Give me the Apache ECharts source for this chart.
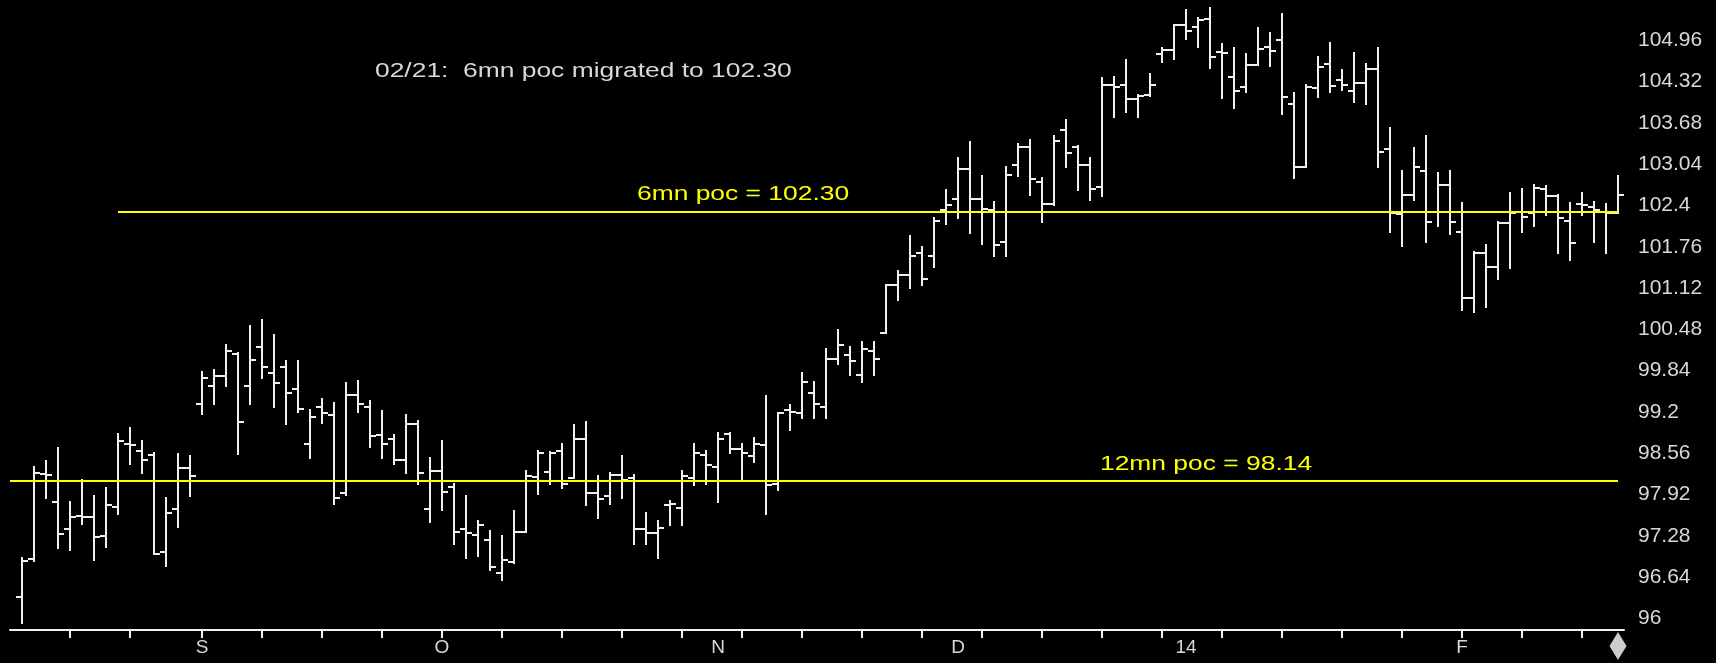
<!DOCTYPE html>
<html>
<head>
<meta charset="utf-8">
<title>6mn poc</title>
<script src="https://cdn.jsdelivr.net/npm/echarts@6/dist/echarts.min.js"></script>
<style>
html, body { margin: 0; padding: 0; background: #000; }
#chart { width: 1716px; height: 663px; }
</style>
</head>
<body>
<div id="chart"></div>
<script>
// daily bars (open / high / low / close)
var opens = [96.33, 96.92, 98.23, 97.81, 97.38, 97.58, 97.57, 97.27, 97.73, 98.71,
    98.59, 98.53, 97.03, 97.69, 98.33, 99.33, 99.60, 99.75, 100.10, 99.60,
    100.20, 99.80, 99.89, 99.55, 98.71, 99.27, 99.15, 97.94, 99.46, 99.27,
    98.84, 98.78, 98.45, 99.01, 97.69, 98.29, 98.03, 97.38, 97.29, 97.22,
    96.71, 96.88, 97.34, 98.19, 98.27, 98.59, 98.18, 98.78, 97.94, 97.89,
    98.22, 98.17, 97.38, 97.33, 97.76, 97.71, 98.18, 98.53, 98.35, 98.85,
    98.62, 98.52, 98.69, 98.09, 99.23, 99.18, 99.49, 99.28, 100.02, 100.08,
    99.77, 100.14, 100.43, 101.17, 101.32, 101.66, 101.61, 102.33, 102.50, 102.97,
    102.50, 102.33, 101.83, 103.03, 103.30, 102.76, 102.43, 103.57, 103.30, 103.03,
    102.68, 104.27, 104.27, 104.05, 104.11, 104.75, 104.81, 105.20, 105.17, 105.29,
    104.78, 104.40, 104.23, 104.58, 104.86, 104.96, 103.98, 103.00, 104.22, 104.59,
    104.35, 104.18, 104.30, 104.51, 103.27, 102.27, 102.56, 102.94, 102.30, 102.72,
    101.99, 100.96, 101.66, 101.44, 102.13, 102.30, 102.29, 102.66, 102.54, 102.16,
    102.43, 102.38, 102.30, 102.29];
var highs = [96.93, 98.35, 98.44, 98.64, 97.80, 98.14, 97.89, 98.02, 98.85, 98.95,
    98.75, 98.57, 97.86, 98.54, 98.51, 99.82, 99.85, 100.23, 100.12, 100.53,
    100.63, 100.40, 99.99, 99.99, 99.23, 99.40, 99.34, 99.65, 99.68, 99.37,
    99.22, 98.84, 99.15, 99.06, 98.48, 98.75, 98.09, 97.89, 97.51, 97.36,
    97.27, 97.67, 98.29, 98.60, 98.58, 98.71, 99.00, 99.04, 98.20, 98.26,
    98.51, 98.22, 97.64, 97.51, 97.82, 98.28, 98.70, 98.59, 98.88, 98.88,
    98.70, 98.79, 99.44, 99.19, 99.31, 99.81, 99.66, 100.18, 100.47, 100.21,
    100.28, 100.28, 101.17, 101.38, 101.92, 101.76, 102.20, 102.64, 103.13, 103.38,
    102.85, 102.45, 103.00, 103.35, 103.42, 102.82, 103.47, 103.73, 103.32, 103.13,
    104.37, 104.40, 104.65, 104.11, 104.44, 104.84, 105.20, 105.43, 105.30, 105.46,
    104.90, 104.84, 104.75, 105.15, 105.08, 105.37, 104.15, 104.27, 104.71, 104.92,
    104.50, 104.77, 104.59, 104.84, 103.60, 102.94, 103.29, 103.47, 102.91, 102.94,
    102.44, 101.68, 101.79, 102.15, 102.59, 102.65, 102.72, 102.70, 102.56, 102.44,
    102.60, 102.46, 102.43, 102.85];
var lows = [95.93, 96.89, 97.86, 97.09, 97.06, 97.46, 96.90, 97.11, 97.62, 98.39,
    98.26, 97.00, 96.81, 97.42, 97.89, 99.17, 99.32, 99.60, 98.55, 99.32,
    99.73, 99.28, 99.01, 99.20, 98.48, 99.03, 97.78, 97.91, 99.20, 98.65,
    98.48, 98.39, 98.26, 98.08, 97.50, 97.68, 97.15, 96.93, 96.97, 96.75,
    96.59, 96.85, 97.34, 97.93, 98.08, 98.02, 98.18, 97.75, 97.55, 97.77,
    97.87, 97.16, 97.16, 96.94, 97.44, 97.45, 98.06, 98.09, 97.81, 98.56,
    98.16, 98.43, 97.61, 97.99, 98.92, 99.11, 99.10, 99.10, 99.94, 99.78,
    99.67, 99.78, 100.42, 100.94, 101.12, 101.16, 101.44, 102.11, 102.20, 101.98,
    101.81, 101.62, 101.62, 102.86, 102.57, 102.15, 102.41, 102.99, 102.64, 102.49,
    102.55, 103.77, 103.85, 103.77, 104.10, 104.63, 104.67, 104.98, 104.85, 104.53,
    104.06, 103.91, 104.16, 104.58, 104.56, 103.82, 102.82, 103.00, 104.08, 104.16,
    104.19, 104.01, 103.98, 102.99, 101.99, 101.77, 102.49, 101.84, 102.08, 101.96,
    100.78, 100.75, 100.82, 101.26, 101.43, 101.99, 102.08, 102.25, 101.66, 101.56,
    102.25, 101.84, 101.66, 102.29];
var closes = [96.89, 98.25, 98.22, 97.31, 97.57, 97.57, 97.26, 97.76, 98.75, 98.68,
    98.46, 97.00, 97.63, 98.33, 98.21, 99.73, 99.75, 100.15, 99.05, 100.00,
    99.90, 99.65, 99.49, 99.24, 99.12, 99.18, 97.87, 99.46, 99.33, 98.82,
    98.71, 98.45, 99.02, 98.25, 98.29, 97.96, 97.34, 97.32, 97.45, 96.79,
    96.91, 97.34, 98.21, 98.57, 98.56, 98.09, 98.78, 97.94, 97.85, 98.22,
    98.15, 97.38, 97.33, 97.40, 97.77, 98.21, 98.57, 98.38, 98.78, 98.62,
    98.57, 98.71, 98.06, 99.18, 99.20, 99.67, 99.33, 100.02, 100.24, 99.99,
    100.18, 100.02, 101.17, 101.32, 101.62, 101.26, 102.16, 102.41, 102.97, 102.50,
    102.35, 101.79, 102.87, 103.31, 102.81, 102.43, 103.40, 103.21, 103.03, 102.65,
    104.27, 104.23, 104.05, 104.09, 104.27, 104.81, 105.20, 105.11, 105.27, 104.70,
    104.77, 104.18, 104.58, 104.82, 104.80, 104.08, 103.00, 104.23, 104.55, 104.25,
    104.27, 104.30, 104.51, 103.23, 102.29, 102.56, 103.00, 102.15, 102.72, 102.15,
    100.96, 101.66, 101.44, 102.13, 102.29, 102.22, 102.67, 102.54, 102.20, 101.82,
    102.41, 102.33, 102.29, 102.56];

var monthLabels = ['S', 'O', 'N', 'D', '14', 'F'];
var monthBars = [15, 35, 58, 78, 97, 120];
var weekBars = [4, 9, 15, 20, 25, 30, 35, 40, 45, 50, 55, 60, 65, 70, 75, 80, 85,
    90, 95, 100, 105, 110, 115, 120, 125, 130];
var priceTicks = [96, 96.64, 97.28, 97.92, 98.56, 99.2, 99.84, 100.48, 101.12,
    101.76, 102.4, 103.04, 103.68, 104.32, 104.96];

var poc6 = 102.30;
var poc6From = 8;
var poc12 = 98.14;
var poc12From = -1;

var note = '02/21:  6mn poc migrated to 102.30';

var bars = [];
for (var i = 0; i < opens.length; i++) {
    bars.push([i, opens[i], highs[i], lows[i], closes[i]]);
}
var lastBar = bars.length - 1;

function renderBar(params, api) {
    var x = api.value(0);
    var o = api.coord([x, api.value(1)]);
    var h = api.coord([x, api.value(2)]);
    var l = api.coord([x, api.value(3)]);
    var c = api.coord([x, api.value(4)]);
    var px = Math.round(h[0]);
    var st = { stroke: '#f0f0f0', lineWidth: 2 };
    return {
        type: 'group',
        children: [
            { type: 'line', shape: { x1: px, y1: Math.round(h[1]) - 1, x2: px, y2: Math.round(l[1]) + 1 }, style: st },
            { type: 'line', shape: { x1: px - 6, y1: Math.round(o[1]), x2: px, y2: Math.round(o[1]) }, style: st },
            { type: 'line', shape: { x1: px, y1: Math.round(c[1]), x2: px + 6, y2: Math.round(c[1]) }, style: st }
        ]
    };
}

var chart = echarts.init(document.getElementById('chart'));
var font = 'Liberation Sans';

// the old bitmap font is wide, so the notes get stretched sideways
function note_text(x, y, txt, color) {
    return {
        type: 'text', x: x, y: y, scaleX: 1.32,
        style: { text: txt, fill: color, font: '20px ' + font, textVerticalAlign: 'top' }
    };
}

var option = {
    backgroundColor: '#000000',
    animation: false,
    grid: { left: 10, top: 0, width: 1614, height: 630 },
    xAxis: {
        type: 'value',
        min: -1,
        max: 133.5,
        splitLine: { show: false },
        axisLine: { lineStyle: { color: '#f0f0f0', width: 2 } },
        axisTick: { customValues: weekBars, length: 8, lineStyle: { color: '#f0f0f0', width: 2 } },
        axisLabel: {
            customValues: monthBars,
            color: '#d8d8d8',
            fontFamily: font,
            fontSize: 19,
            margin: 8,
            formatter: function (v) { return monthLabels[monthBars.indexOf(v)]; }
        }
    },
    yAxis: {
        type: 'value',
        position: 'right',
        min: 95.819,
        max: 105.586,
        splitLine: { show: false },
        axisLine: { show: false },
        axisTick: { show: false },
        axisLabel: {
            customValues: priceTicks,
            color: '#d8d8d8',
            fontFamily: font,
            fontSize: 21,
            margin: 14,
            formatter: function (v) { return String(+v.toFixed(2)); }
        }
    },
    series: [
        {
            type: 'custom',
            renderItem: renderBar,
            data: bars,
            clip: false,
            markLine: {
                silent: true,
                symbol: 'none',
                label: { show: false },
                lineStyle: { color: '#ffff00', width: 2, type: 'solid' },
                data: [
                    [{ coord: [poc6From, poc6] }, { coord: [lastBar, poc6] }],
                    [{ coord: [poc12From, poc12] }, { coord: [lastBar, poc12] }]
                ]
            }
        },
        {
            type: 'scatter',
            clip: false,
            symbol: 'diamond',
            symbolSize: [17, 28],
            itemStyle: { color: '#ffffff' },
            data: [[lastBar, 95.57]]
        }
    ],
    graphic: [
        note_text(375, 61, note, '#d8d8d8'),
        note_text(637, 184, '6mn poc = ' + poc6.toFixed(2), '#ffff00'),
        note_text(1100, 454, '12mn poc = ' + poc12.toFixed(2), '#ffff00')
    ]
};
chart.setOption(option);
</script>
</body>
</html>
